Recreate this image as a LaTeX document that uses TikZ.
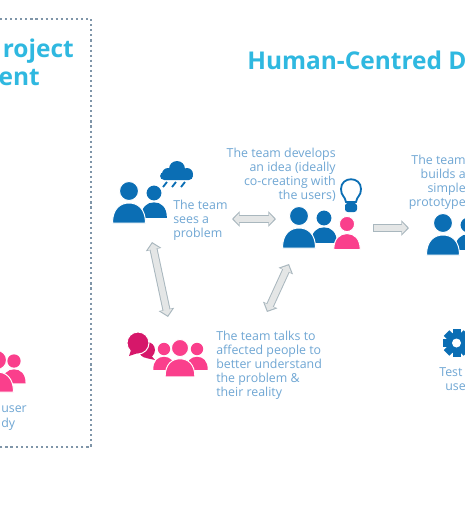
\documentclass[tikz,border=0pt]{standalone}
\usepackage{fontspec}
\usepackage{xcolor}
\usetikzlibrary{arrows.meta}
\setmainfont{Open Sans}

\definecolor{teamblue}{HTML}{0B6EB4}
\definecolor{userpink}{HTML}{FA3F8C}
\definecolor{bubblepink}{HTML}{D6176A}
\definecolor{titlecyan}{HTML}{2FB8E0}
\definecolor{bodyblue}{HTML}{6FA6D3}
\definecolor{frameblue}{HTML}{7F95A8}
\definecolor{arrowfill}{HTML}{E4E6E6}
\definecolor{arrowedge}{HTML}{A9B7BE}

\begin{document}
\begin{tikzpicture}[
    x=0.025cm,
    y=-0.025cm,
    tipedge/.tip={Triangle[width=11pt,length=5.5pt]},
    tipfill/.tip={Triangle[width=8pt,length=4pt]},
    title/.style={
        inner sep=0pt,
        text=titlecyan,
        font=\fontsize{17.4}{20}\selectfont\bfseries
    },
    body/.style={
        inner sep=0pt,
        text=bodyblue,
        font=\fontsize{8.8}{10}\selectfont
    },
    blockboth/.style={
        tipfill-tipfill,
        draw=arrowfill,
        line width=4.3pt,
        shorten >=1.1pt,
        shorten <=1.1pt,
        preaction={draw=arrowedge, line width=5.7pt, tipedge-tipedge, shorten >=0pt, shorten <=0pt}
    },
    blockright/.style={
        -tipfill,
        draw=arrowfill,
        line width=4.3pt,
        shorten >=1.1pt,
        shorten <=1pt,
        preaction={draw=arrowedge, line width=5.7pt, -tipedge, shorten >=0pt, shorten <=0pt}
    },
    person/.pic={
        \path[pic actions] (0,0) circle (9.5);
        \path[pic actions] (-16.5,32) .. controls (-16.5,18) and (-9,12) .. (0,12)
            .. controls (9,12) and (16.5,18) .. (16.5,32) -- cycle;
    }
]

    \path[use as bounding box, clip] (0,0) rectangle (465,515);

    % --- FRAME ---
    \draw [frameblue, line width=1.5pt, dash pattern=on 1.5pt off 2.1pt]
        (-5,19) -- (91,19) -- (91,447) -- (-5,447);

    % --- TITLES ---
    \node [title, anchor=base east] (project) at (74,57) {roject};
    \node [title, anchor=base east] (ent) at (40,85) {ent};
    \node [title, anchor=base west] (hcd) at (247,69) {Human-Centred D};

    % --- LEFT GROUP (user study) ---
    \pic [fill=userpink, scale=0.7] at (14,361) {person={}};
    \pic [fill=userpink, draw=white, line width=0.7pt] at (-3,360) {person={}};
    \node [body, anchor=base west] (user) at (1,412) {user};
    \node [body, anchor=base west] (dy) at (1,427) {dy};

    % --- SEES A PROBLEM ---
    \pic [fill=teamblue, scale=0.78] at (154,193) {person={}};
    \pic [fill=teamblue, draw=white, line width=0.7pt] at (129,191) {person={}};
    % cloud
    \fill [teamblue] (177,169) circle (8) (168,174) circle (6) (187,174) circle (6);
    \fill [teamblue, rounded corners=3pt] (160,172) rectangle (193,180);
    \foreach \x in {165,174,183}
        \draw [teamblue, line width=1.3pt] (\x+2,182) -- (\x-2,187);
    \node [body, anchor=north west, align=left] (sees) at (173,200) {The team\\sees a\\problem};

    % --- DEVELOPS AN IDEA ---
    \pic [fill=teamblue, scale=0.78] at (324,218) {person={}};
    \pic [fill=teamblue, draw=white, line width=0.7pt] at (299,216) {person={}};
    \pic [fill=userpink, draw=white, line width=0.7pt, scale=0.8] at (347,224) {person={}};
    % bulb
    \draw [teamblue, line width=1.3pt] (346,202) .. controls (345,196) and (341,196) .. (341,189)
        .. controls (341,176) and (361,176) .. (361,189)
        .. controls (361,196) and (357,196) .. (356,202) -- cycle;
    \fill [teamblue, rounded corners=2pt] (345,203) rectangle (357,212);
    \node [body, anchor=north east, align=right] (idea) at (336,148) {The team develops\\an idea (ideally\\co-creating with\\the users)};

    % --- BUILDS A PROTOTYPE ---
    \pic [fill=teamblue, scale=0.78] at (468,225) {person={}};
    \pic [fill=teamblue, draw=white, line width=0.7pt] at (443,223) {person={}};
    \node [body, anchor=north east, align=right] (builds) at (466,155) {The team\\builds a\\simple\\prototype};

    % --- TALKS TO PEOPLE ---
    \fill [bubblepink] (147,350) circle (8) (150,354) -- (155,360) -- (146,358) -- cycle;
    \fill [bubblepink, draw=white, line width=0.7pt] (138,343) circle (11);
    \fill [bubblepink] (131,350) -- (129,356) -- (138,353) -- cycle;
    \pic [fill=userpink, scale=0.65] at (164,349) {person={}};
    \pic [fill=userpink, scale=0.65] at (197,349) {person={}};
    \pic [fill=userpink, draw=white, line width=0.7pt, scale=0.9] at (180,348) {person={}};
    \node [body, anchor=north west, align=left] (talks) at (216,331) {The team talks to\\affected people to\\better understand\\the problem \&\\their reality};

    % --- TEST WITH USERS ---
    \foreach \a in {0,45,...,315}
        \fill [teamblue, rotate around={\a:(456.5,343)}] (452.5,329) rectangle (460.5,340);
    \fill [teamblue] (456.5,343) circle (10.5);
    \fill [white] (456.5,343) circle (4.5);
    \node [body, anchor=base west] (test) at (439,376) {Test};
    \node [body, anchor=base west] (use) at (445,390) {use};

    % --- ARROWS ---
    \coordinate (sees-east) at (232,219);
    \coordinate (idea-west) at (276,219);
    \coordinate (idea-east) at (373,228);
    \coordinate (builds-west) at (409,228);
    \coordinate (sees-south) at (152,242);
    \coordinate (talks-north) at (168,317);
    \coordinate (idea-south) at (289,264);
    \coordinate (talks-east) at (267,312);

    \draw [blockboth] (sees-east) -- (idea-west);
    \draw [blockright] (idea-east) -- (builds-west);
    \draw [blockboth] (sees-south) -- (talks-north);
    \draw [blockboth] (idea-south) -- (talks-east);

\end{tikzpicture}
\end{document}
